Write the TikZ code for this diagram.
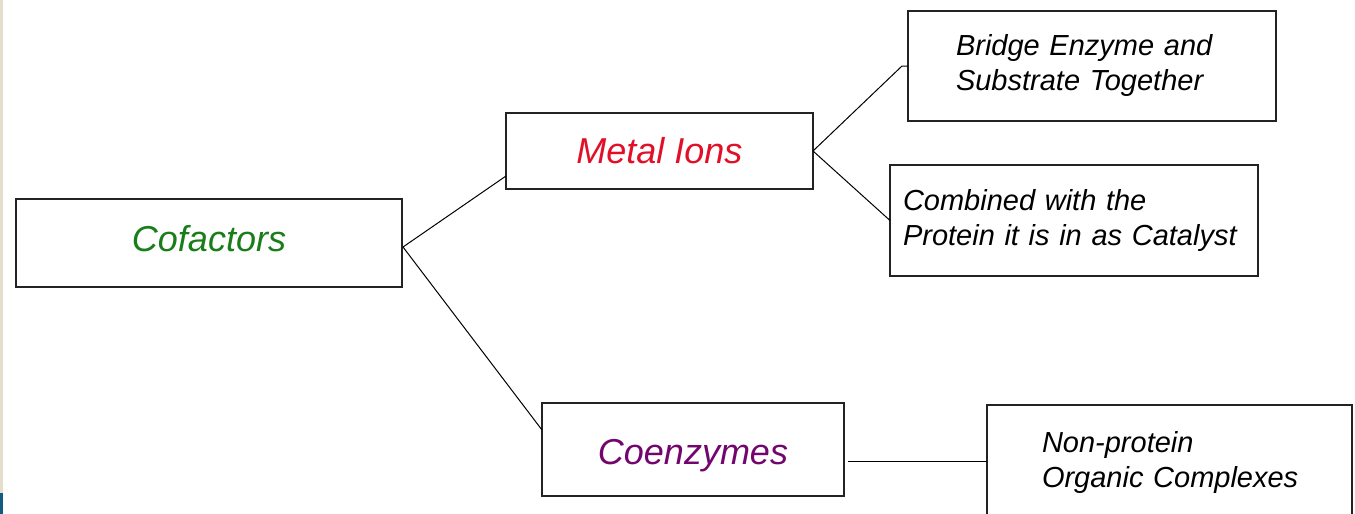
\documentclass[tikz,border=0pt]{standalone}
\usepackage{fontspec}
\setmainfont{Liberation Sans}
\definecolor{cofgreen}{RGB}{25,125,25}
\definecolor{metred}{RGB}{225,15,40}
\definecolor{coepurple}{RGB}{115,5,110}
\definecolor{stripbeige}{RGB}{230,222,205}
\definecolor{stripblue}{RGB}{20,90,130}
\definecolor{boxline}{RGB}{35,35,35}
\begin{document}
\begin{tikzpicture}[x=1pt,y=-1pt,
  box/.style={draw=boxline, line width=1.5pt, rectangle, inner sep=0pt, outer sep=0pt},
  big/.style={font=\fontsize{36}{40}\selectfont\itshape},
  small/.style={font=\fontsize{29}{35}\selectfont\itshape, align=left},
  link/.style={draw=black, line width=1pt}]
\useasboundingbox (0,0) rectangle (1355,514);
\clip (0,0) rectangle (1355,514);
\fill[white] (0,0) rectangle (1355,514);
\fill[stripbeige] (0,0) rectangle (3,493);
\fill[stripblue] (0,493) rectangle (3,514);

\node[box,big,text=cofgreen,minimum width=386pt,minimum height=88pt,text height=26pt,text depth=10pt] (cof) at (209,243) {Cofactors};
\node[box,big,text=metred,minimum width=307pt,minimum height=76pt,text height=26pt,text depth=2pt] (mi) at (659.5,151) {Metal Ions};
\node[box,big,text=coepurple,minimum width=302pt,minimum height=93pt,text height=30pt,text depth=1pt] (ce) at (693,449.5) {Coenzymes};

\node[box,small,text width=368pt,minimum height=110pt] (br) at (1092,66) {\hspace*{48pt}Bridge Enzyme and\\\hspace*{48pt}Substrate Together};
\node[box,small,text width=368pt,minimum height=111pt] (cb) at (1074,220.5) {\hspace*{13pt}Combined with the\\\hspace*{13pt}Protein it is in as Catalyst};
\node[box,small,text width=365pt,minimum height=114pt] (np) at (1169.5,462) {\hspace*{55pt}Non-protein\\\hspace*{55pt}Organic Complexes};

\coordinate (cj) at (403,247);
\coordinate (miIn) at (506,176);
\coordinate (ceIn) at (542,430);
\coordinate (brKnee) at (902,66);
\coordinate (ceOut) at (848,461);
\coordinate (npIn) at (987,461);

\draw[link] (cj) -- (miIn);
\draw[link] (cj) -- (ceIn);
\draw[link] (mi.east) -- (brKnee) -- (br.west);
\draw[link] (mi.east) -- (cb.west);
\draw[link] (ceOut) -- (npIn);
\end{tikzpicture}
\end{document}
